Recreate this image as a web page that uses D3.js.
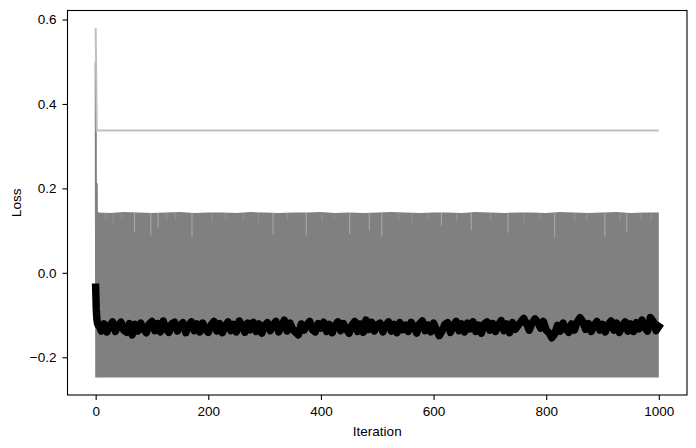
<!DOCTYPE html>
<html>
<head>
<meta charset="utf-8">
<script src="https://cdn.jsdelivr.net/npm/d3@7"></script>
<style>
  html, body { margin: 0; padding: 0; background: #fff; }
  svg { display: block; }
  text { font-family: "Liberation Sans", Arial, Helvetica, sans-serif; }
</style>
</head>
<body>
<svg id="chart" width="696" height="448"></svg>
<script>
// ---------------- data ----------------
const xTicks = [0, 200, 400, 600, 800, 1000];
const yTicks = [-0.2, 0.0, 0.2, 0.4, 0.6];

// light grey reference line (spike then flat)
const lightIter = [0, 2, 1000];
const lightLoss = [0.58, 0.337, 0.337];

// first raw loss values (dark grey spike)
const headIter = [0, 1, 2, 3, 4];
const headLoss = [0.50, -0.248, 0.212, -0.248, 0.143];

// raw-loss band: lower bound and upper envelope sampled every 25 iterations
const bandLow = -0.248;
const bandTop = [0.143, 0.142, 0.144, 0.143, 0.142, 0.143, 0.144, 0.142, 0.143, 0.143,
                 0.142, 0.144, 0.143, 0.142, 0.143, 0.143, 0.144, 0.142, 0.143, 0.142,
                 0.143, 0.144, 0.143, 0.142, 0.143, 0.143, 0.142, 0.144, 0.143, 0.142,
                 0.143, 0.143, 0.142, 0.144, 0.143, 0.142, 0.143, 0.144, 0.142, 0.143, 0.143];
// clear lighter streaks where the band's upper envelope dips
const dipIter = [69, 98, 111, 171, 315, 374, 451, 486, 508, 614, 667, 732, 815, 904, 943];
const dipLoss = [0.096, 0.088, 0.107, 0.084, 0.091, 0.088, 0.092, 0.100, 0.086, 0.111, 0.101, 0.095, 0.084, 0.086, 0.095];
// faint shallow streaks
const faintIter = [18, 31, 47, 126, 142, 206, 231, 262, 289, 341, 402, 423, 538, 562, 591, 641, 701, 761, 789, 851, 872, 931, 968, 986];
const faintLoss = [0.125, 0.118, 0.128, 0.122, 0.126, 0.120, 0.127, 0.124, 0.119, 0.126, 0.121, 0.128, 0.123, 0.118, 0.126, 0.122, 0.125, 0.119, 0.127, 0.121, 0.124, 0.12, 0.126, 0.122];

// moving-average loss (black): head at iterations 0..4, then every 5 iterations from 5 to 1000
const avgHead = [-0.034, -0.085, -0.108, -0.118, -0.123];
const avgLoss = [
  -0.122, -0.138, -0.121, -0.140, -0.126, -0.116, -0.139, -0.124, -0.117, -0.136,
  -0.141, -0.120, -0.147, -0.122, -0.138, -0.119, -0.133, -0.142, -0.121, -0.115,
  -0.137, -0.120, -0.140, -0.114, -0.133, -0.141, -0.121, -0.117, -0.138, -0.124,
  -0.118, -0.142, -0.125, -0.116, -0.137, -0.121, -0.140, -0.119, -0.134, -0.141,
  -0.123, -0.115, -0.138, -0.120, -0.142, -0.126, -0.116, -0.137, -0.122, -0.140,
  -0.114, -0.124, -0.141, -0.119, -0.135, -0.117, -0.139, -0.121, -0.143, -0.125,
  -0.118, -0.137, -0.123, -0.115, -0.140, -0.126, -0.112, -0.138, -0.119, -0.134,
  -0.141, -0.147, -0.121, -0.136, -0.123, -0.115, -0.135, -0.140, -0.120, -0.131,
  -0.117, -0.139, -0.122, -0.142, -0.125, -0.116, -0.137, -0.120, -0.134, -0.143,
  -0.124, -0.115, -0.139, -0.121, -0.141, -0.112, -0.134, -0.117, -0.138, -0.123,
  -0.119, -0.140, -0.125, -0.116, -0.138, -0.122, -0.142, -0.118, -0.135, -0.124,
  -0.139, -0.117, -0.127, -0.143, -0.121, -0.114, -0.137, -0.123, -0.140, -0.119,
  -0.134, -0.149, -0.138, -0.122, -0.118, -0.141, -0.125, -0.115, -0.137, -0.121,
  -0.140, -0.119, -0.133, -0.116, -0.139, -0.124, -0.143, -0.121, -0.116, -0.136,
  -0.120, -0.139, -0.124, -0.113, -0.137, -0.121, -0.142, -0.118, -0.134, -0.125,
  -0.116, -0.108, -0.120, -0.136, -0.118, -0.109, -0.117, -0.131, -0.115, -0.136,
  -0.142, -0.154, -0.145, -0.124, -0.138, -0.119, -0.133, -0.141, -0.121, -0.136,
  -0.117, -0.106, -0.116, -0.134, -0.120, -0.139, -0.124, -0.115, -0.136, -0.122,
  -0.140, -0.123, -0.114, -0.136, -0.119, -0.141, -0.126, -0.116, -0.138, -0.121,
  -0.139, -0.118, -0.133, -0.112, -0.130, -0.138, -0.106, -0.115, -0.137, -0.127
];

// ---------------- layout ----------------
const plot = { left: 67.5, right: 687, top: 10.5, bottom: 395 };

const svg = d3.select("#chart");

const x = d3.scaleLinear().domain([-50, 1050]).range([plot.left, plot.right]);
const yMin = -0.248, yMax = 0.58, pad = (yMax - yMin) * 0.05;
const y = d3.scaleLinear().domain([yMin - pad, yMax + pad]).range([plot.bottom, plot.top]);

svg.append("defs").append("clipPath").attr("id", "clip")
  .append("rect")
  .attr("x", plot.left).attr("y", plot.top)
  .attr("width", plot.right - plot.left).attr("height", plot.bottom - plot.top);

const g = svg.append("g").attr("clip-path", "url(#clip)");

// band area
const bandData = bandTop.map((v, i) => ({ it: Math.max(3, i * 25), top: v }));
g.append("path")
  .datum(bandData)
  .attr("fill", "#808080")
  .attr("d", d3.area().x(d => x(d.it)).y0(() => y(bandLow)).y1(d => y(d.top)));

// faint streaks
g.selectAll("line.faint")
  .data(faintIter.map((it, i) => ({ it, lo: faintLoss[i] })))
  .join("line")
  .attr("class", "faint")
  .attr("x1", d => x(d.it)).attr("x2", d => x(d.it))
  .attr("y1", y(0.142)).attr("y2", d => y(d.lo))
  .attr("stroke", "#939393")
  .attr("stroke-width", 1);

// dips
g.selectAll("line.dip")
  .data(dipIter.map((it, i) => ({ it, lo: dipLoss[i] })))
  .join("line")
  .attr("class", "dip")
  .attr("x1", d => x(d.it)).attr("x2", d => x(d.it))
  .attr("y1", y(0.142)).attr("y2", d => y(d.lo))
  .attr("stroke", "#a6a6a6")
  .attr("stroke-width", 1.1);

// head spike of raw loss
g.append("path")
  .datum(headIter.map((it, i) => ({ it, v: headLoss[i] })))
  .attr("fill", "none")
  .attr("stroke", "#808080")
  .attr("stroke-width", 2)
  .attr("d", d3.line().x(d => x(d.it)).y(d => y(d.v)));

// light grey line
g.append("path")
  .datum(lightIter.map((it, i) => ({ it, v: lightLoss[i] })))
  .attr("fill", "none")
  .attr("stroke", "#bfbfbf")
  .attr("stroke-width", 2)
  .attr("d", d3.line().x(d => x(d.it)).y(d => y(d.v)));

// moving average (black)
const avgData = avgHead.map((v, i) => ({ it: i, v }))
  .concat(avgLoss.map((v, i) => ({ it: (i + 1) * 5, v })));
g.append("path")
  .datum(avgData)
  .attr("fill", "none")
  .attr("stroke", "#000")
  .attr("stroke-width", 7.4)
  .attr("stroke-linejoin", "round")
  .attr("stroke-linecap", "square")
  .attr("d", d3.line().x(d => x(d.it)).y(d => y(d.v)));

// axes
const fmtY = d => (d < 0 ? "\u2212" : "") + Math.abs(d).toFixed(1);
const xAxis = svg.append("g")
  .attr("transform", `translate(0,${plot.bottom})`)
  .call(d3.axisBottom(x).tickValues(xTicks).tickSize(5).tickPadding(6).tickFormat(d3.format("d")));
const yAxis = svg.append("g")
  .attr("transform", `translate(${plot.left},0)`)
  .call(d3.axisLeft(y).tickValues(yTicks).tickSize(5).tickPadding(6).tickFormat(fmtY));

[xAxis, yAxis].forEach(a => {
  a.select(".domain").remove();
  a.selectAll(".tick line").attr("stroke", "#000").attr("stroke-width", 1.1);
  a.selectAll(".tick text")
    .attr("fill", "#000")
    .style("font-size", "13.5px")
    .style("font-family", "'Liberation Sans', Arial, Helvetica, sans-serif");
});

// frame
svg.append("rect")
  .attr("x", plot.left).attr("y", plot.top)
  .attr("width", plot.right - plot.left).attr("height", plot.bottom - plot.top)
  .attr("fill", "none").attr("stroke", "#000").attr("stroke-width", 1.1);

// axis labels
svg.append("text")
  .attr("x", (plot.left + plot.right) / 2).attr("y", 436)
  .attr("text-anchor", "middle")
  .style("font-size", "13.5px")
  .text("Iteration");
svg.append("text")
  .attr("transform", `translate(21,${(plot.top + plot.bottom) / 2}) rotate(-90)`)
  .attr("text-anchor", "middle")
  .style("font-size", "13.5px")
  .text("Loss");
</script>
</body>
</html>
